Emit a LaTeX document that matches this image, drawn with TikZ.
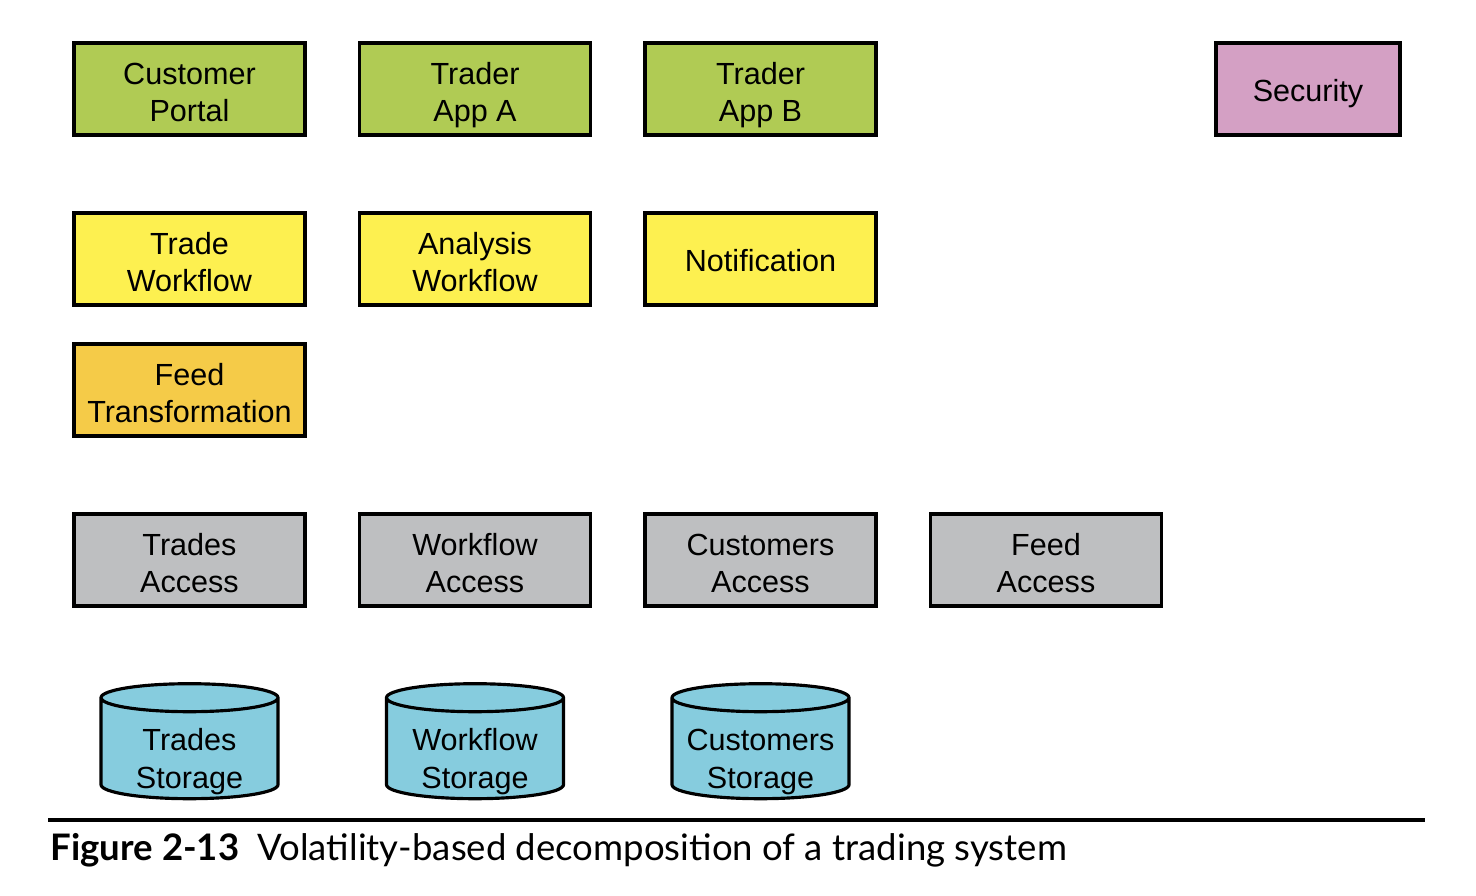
\documentclass[tikz,border=0pt]{standalone}
\usepackage{fontspec}
\setmainfont{Liberation Sans}
\newfontfamily\captionfont{Lato}
\usetikzlibrary{positioning, shapes.geometric}
\definecolor{clientgreen}{RGB}{176,203,84}
\definecolor{manageryellow}{RGB}{253,240,80}
\definecolor{engineorange}{RGB}{245,203,72}
\definecolor{accessgray}{RGB}{190,191,193}
\definecolor{storagecyan}{RGB}{134,204,222}
\definecolor{utilitypink}{RGB}{212,160,196}
\tikzset{
	block/.style={draw, line width=0.9pt, minimum width=2.31cm, minimum height=0.92cm, inner sep=0pt, align=center, text height=0.66cm, text depth=-0.02cm, font=\fontsize{8.7}{10.7}\selectfont}, % every rectangle
	oneline/.style={text height=0.26cm, text depth=0cm}, % boxes with a single line of text
	client/.style={block, fill=clientgreen},
	manager/.style={block, fill=manageryellow},
	engine/.style={block, fill=engineorange},
	access/.style={block, fill=accessgray},
	utility/.style={block, fill=utilitypink, minimum width=1.84cm},
	store/.style={draw, line width=0.9pt, cylinder, shape border rotate=90, aspect=0.175, minimum width=1.77cm, minimum height=1.15cm, inner sep=0pt, align=center, text width=1.6cm, fill=storagecyan, text height=0.345cm, text depth=0.315cm, font=\fontsize{8.7}{10.7}\selectfont}, % databases, text pushed down
}
\begin{document}
\begin{tikzpicture}[node distance=2.855cm, on grid]
	\useasboundingbox (0,0) rectangle (14.76,-8.96);
	% Clients
	\node[client] (cp) at (1.895,-0.89) {Customer\\Portal};
	\node[client, right=of cp] (ta) {Trader\\App A};
	\node[client, right=of ta] (tb) {Trader\\App B};
	\node[utility, oneline, right=5.475cm of tb] (sec) {Security};
	
	% Managers
	\node[manager, below=1.7cm of cp] (tw) {Trade\\Workflow};
	\node[manager, right=of tw] (aw) {Analysis\\Workflow};
	\node[manager, oneline, right=of aw] (nt) {Notification};
	
	% Engines
	\node[engine, below=1.31cm of tw] (ft) {Feed\\Transformation};
	
	% Resource access
	\node[access, below=1.7cm of ft] (tra) {Trades\\Access};
	\node[access, right=of tra] (wfa) {Workflow\\Access};
	\node[access, right=of wfa] (cua) {Customers\\Access};
	\node[access, right=of cua] (fda) {Feed\\Access};
	
	% Resources
	\node[store, below=1.89cm of tra] (trs) {Trades\\Storage};
	\node[store, right=of trs] (wfs) {Workflow\\Storage};
	\node[store, right=of wfs] (cus) {Customers\\Storage};
	
	% Caption
	\draw[line width=0.9pt] (0.48,-8.2) -- (14.25,-8.2);
	\node[anchor=base west, inner sep=0pt, font=\captionfont\fontsize{10.4}{12.5}\selectfont] (cap) at (0.5,-8.6) {\textbf{Figure 2-13}\enspace Volatility-based decomposition of a trading system};
\end{tikzpicture}
\end{document}
